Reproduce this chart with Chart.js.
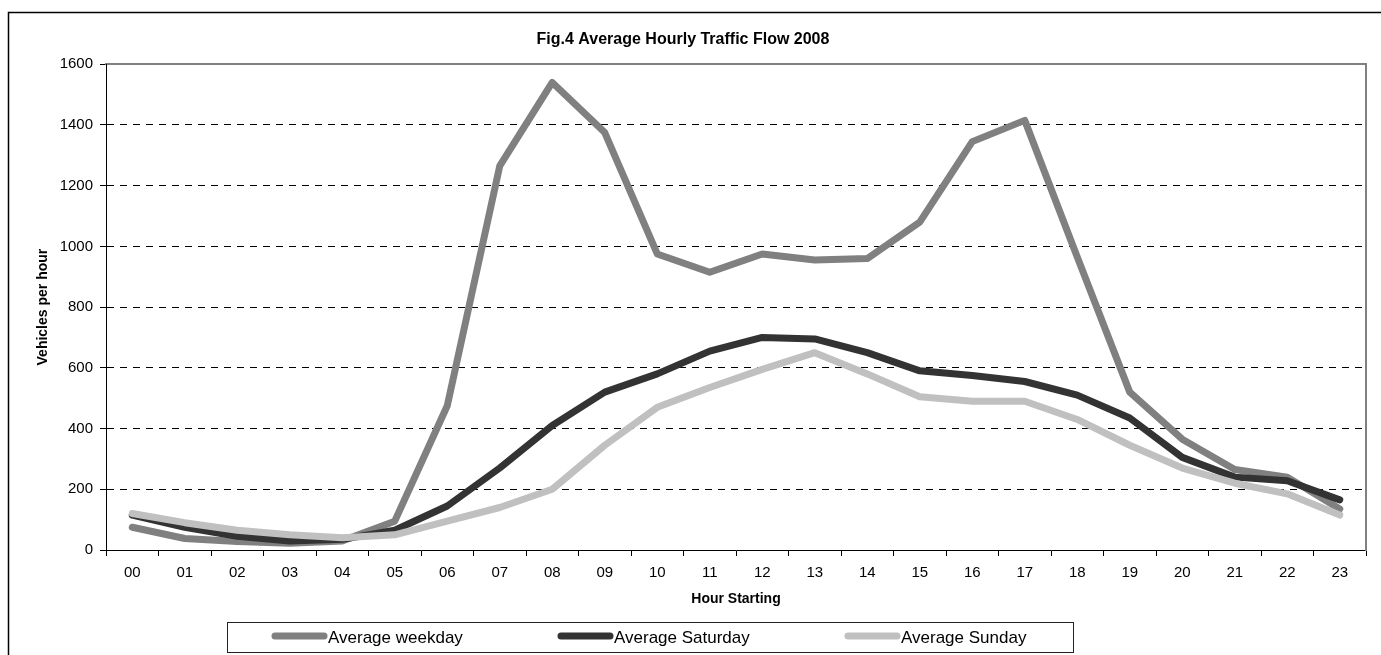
<!DOCTYPE html>
<html>
<head>
<meta charset="utf-8">
<script src="https://cdn.jsdelivr.net/npm/chart.js@4/dist/chart.umd.min.js"></script>
<style>
  html, body { margin: 0; padding: 0; background: #fff; }
  canvas { display: block; }
</style>
</head>
<body>
<canvas id="c" width="1381" height="655"></canvas>
<script>
const hours = ['00','01','02','03','04','05','06','07','08','09','10','11','12','13','14','15','16','17','18','19','20','21','22','23'];
const weekday  = [75, 38, 28, 22, 30, 95, 475, 1265, 1540, 1375, 975, 915, 975, 955, 960, 1080, 1345, 1415, 965, 520, 365, 265, 240, 135];
const saturday = [115, 75, 45, 30, 35, 65, 145, 270, 410, 520, 580, 655, 700, 695, 650, 590, 575, 555, 510, 435, 305, 240, 228, 165];
const sunday   = [120, 90, 65, 50, 40, 50, 95, 140, 200, 345, 470, 535, 595, 650, 580, 505, 490, 490, 430, 345, 270, 220, 185, 115];
const yTicks = [0, 200, 400, 600, 800, 1000, 1200, 1400, 1600];
const titleText = 'Fig.4 Average Hourly Traffic Flow 2008';
const xTitle = 'Hour Starting';
const yTitle = 'Vehicles per hour';

const FONT = '"Liberation Sans", Arial, Helvetica, sans-serif';

const frame = {
  id: 'frame',
  afterDraw(chart) {
    const ctx = chart.ctx;
    ctx.save();
    ctx.strokeStyle = '#000';
    ctx.lineWidth = 1.5;
    ctx.beginPath();
    ctx.moveTo(8.5, 655);
    ctx.lineTo(8.5, 12.5);
    ctx.lineTo(1381, 12.5);
    ctx.stroke();
    ctx.restore();
  }
};

const boxLegend = {
  id: 'boxLegend',
  afterDraw(chart) {
    const ctx = chart.ctx;
    ctx.save();
    ctx.strokeStyle = '#222';
    ctx.lineWidth = 1;
    ctx.strokeRect(227.5, 622.5, 846, 30);
    const cy = 638;
    const starts = [272, 558, 845];
    chart.data.datasets.forEach((ds, i) => {
      const x0 = starts[i];
      ctx.strokeStyle = ds.borderColor;
      ctx.lineWidth = 7;
      ctx.lineCap = 'round';
      ctx.beginPath();
      ctx.moveTo(x0 + 3, cy - 2);
      ctx.lineTo(x0 + 52, cy - 2);
      ctx.stroke();
      ctx.fillStyle = '#000';
      ctx.font = '17px ' + FONT;
      ctx.textAlign = 'left';
      ctx.textBaseline = 'middle';
      ctx.fillText(ds.label, x0 + 56, cy);
    });
    ctx.restore();
  }
};

new Chart(document.getElementById('c'), {
  type: 'line',
  data: {
    labels: hours,
    datasets: [
      { label: 'Average weekday', data: weekday, borderColor: '#808080', backgroundColor: '#808080', order: 3 },
      { label: 'Average Saturday', data: saturday, borderColor: '#333333', backgroundColor: '#333333', order: 2 },
      { label: 'Average Sunday', data: sunday, borderColor: '#c0c0c0', backgroundColor: '#c0c0c0', order: 1 }
    ]
  },
  options: {
    responsive: false,
    animation: false,
    devicePixelRatio: 1,
    layout: { padding: { left: 0, right: 15, top: 0, bottom: 45 } },
    elements: {
      line: { borderWidth: 7, tension: 0, borderCapStyle: 'round', borderJoinStyle: 'round', fill: false },
      point: { radius: 0, hoverRadius: 0 }
    },
    plugins: {
      legend: { display: false },
      tooltip: { enabled: false },
      title: {
        display: true,
        text: titleText,
        color: '#000',
        font: { family: FONT, size: 16, weight: 'bold' },
        padding: { top: 30, bottom: 15 }
      }
    },
    scales: {
      x: {
        type: 'category',
        offset: true,
        grid: { offset: true, drawOnChartArea: false, drawTicks: true, tickLength: 6, tickColor: '#000', tickWidth: 1 },
        border: { color: '#000', width: 1 },
        ticks: { color: '#000', font: { family: FONT, size: 15 }, padding: 8, maxRotation: 0, autoSkip: false },
        title: { display: true, text: xTitle, color: '#000', font: { family: FONT, size: 14, weight: 'bold' }, padding: { top: 0, bottom: 2 } },
        afterFit(s) { s.height = 60; }
      },
      xTop: {
        type: 'category',
        position: 'top',
        display: true,
        ticks: { display: false },
        grid: { display: false, drawTicks: false },
        border: { color: '#808080', width: 2 },
        afterFit(s) { s.height = 0; }
      },
      y: {
        min: 0,
        max: 1600,
        afterBuildTicks(s) { s.ticks = yTicks.map(v => ({ value: v })); },
        ticks: { color: '#000', font: { family: FONT, size: 15 }, padding: 7, callback: v => String(v) },
        grid: {
          color: c => (c.tick && (c.tick.value === 0 || c.tick.value === 1600)) ? 'rgba(0,0,0,0)' : '#000',
          lineWidth: 1,
          tickColor: '#000',
          tickLength: 6,
          drawTicks: true
        },
        border: { color: '#000', width: 1, dash: [7, 6] },
        title: { display: true, text: yTitle, color: '#000', font: { family: FONT, size: 14, weight: 'bold' }, padding: { top: 35, bottom: 0 } },
        afterFit(s) { s.width = 106; }
      },
      yRight: {
        position: 'right',
        display: true,
        min: 0,
        max: 1600,
        ticks: { display: false },
        grid: { display: false, drawTicks: false },
        border: { color: '#808080', width: 2 },
        afterFit(s) { s.width = 0; }
      }
    }
  },
  plugins: [frame, boxLegend]
});
</script>
</body>
</html>
